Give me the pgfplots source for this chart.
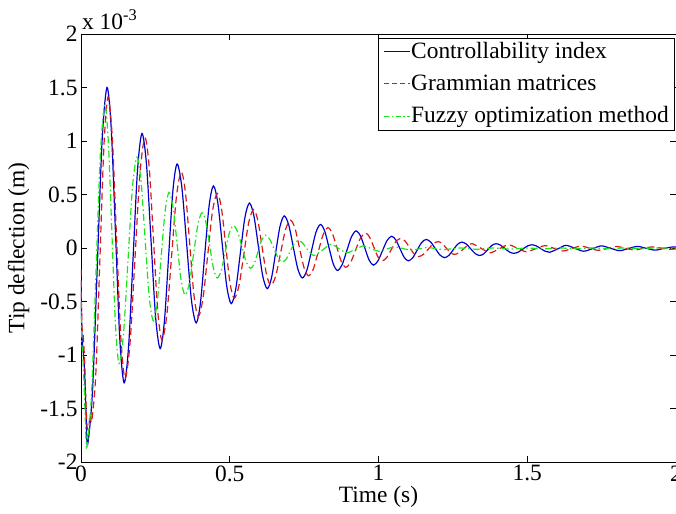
\documentclass[border=0pt]{standalone}
\usepackage{fontspec}
\setmainfont{Liberation Serif}
\usepackage{pgfplots}
\pgfplotsset{compat=1.18}
\definecolor{cblue}{rgb}{0,0,0.8}
\definecolor{cred}{rgb}{0.85,0.1,0.1}
\definecolor{cgreen}{rgb}{0.1,0.9,0.1}

\begin{document}
\begin{tikzpicture}
\begin{axis}[
  scale only axis, width=595bp, height=428bp,
  xmin=0, xmax=2, ymin=-2, ymax=2,
  xtick={0,0.5,1,1.5,2}, ytick={-2,-1.5,-1,-0.5,0,0.5,1,1.5,2},
  tick align=inside, major tick length=6bp,
  axis line style={line width=0.6pt}, every tick/.style={black,line width=0.6pt},
  font=\fontsize{23.5}{27}\selectfont,
  tick label style={font=\fontsize{23.5}{27}\selectfont},
  /pgf/number format/assume math mode=true,
  xlabel={Time (s)}, ylabel={Tip deflection (m)},
  xlabel style={at={(axis description cs:0.5,-0.082)}, anchor=center},
  ylabel style={at={(axis description cs:-0.105,0.5)}, anchor=center},
]
% Controllability index
\addplot[color=cblue, line width=1.2pt, smooth, tension=0.5] coordinates {
(0,-0.3)(0.003,-0.8)(0.007,-0.95)(0.012,-1.15)(0.017,-1.55)(0.022,-1.84)
(0.0384,-1.35)(0.0548,-0.17)(0.0711,1.01)(0.0875,1.50)
(0.1019,1.10)(0.1163,0.12)(0.1306,-0.86)(0.145,-1.26)
(0.16,-0.919)(0.175,-0.095)(0.19,0.729)(0.205,1.07)
(0.2203,0.776)(0.2355,0.065)(0.2508,-0.646)(0.266,-0.94)
(0.2803,-0.687)(0.2945,-0.078)(0.3088,0.532)(0.323,0.785)
(0.339,0.567)(0.355,0.043)(0.371,-0.482)(0.387,-0.70)
(0.4015,-0.512)(0.416,-0.06)(0.4305,0.392)(0.445,0.58)
(0.46,0.419)(0.475,0.03)(0.49,-0.359)(0.505,-0.52)
(0.5203,-0.382)(0.5355,-0.05)(0.5508,0.282)(0.566,0.42)
(0.581,0.303)(0.596,0.02)(0.611,-0.263)(0.626,-0.38)
(0.6403,-0.28)(0.6545,-0.04)(0.6688,0.20)(0.683,0.30)
(0.6983,0.215)(0.7135,0.01)(0.7288,-0.195)(0.744,-0.28)
(0.7593,-0.207)(0.7745,-0.03)(0.7898,0.147)(0.805,0.22)
(0.8193,0.157)(0.8335,0.005)(0.8478,-0.147)(0.862,-0.21)
(0.8778,-0.156)(0.8935,-0.025)(0.9093,0.106)(0.925,0.16)
(0.9395,0.113)(0.954,0)(0.9685,-0.113)(0.983,-0.16)
(0.9983,-0.12)(1.0135,-0.025)(1.0288,0.07)(1.044,0.11)
(1.058,0.076)(1.072,-0.005)(1.086,-0.086)(1.10,-0.12)
(1.115,-0.091)(1.13,-0.02)(1.145,0.051)(1.16,0.08)
(1.1755,0.055)(1.191,-0.005)(1.2065,-0.065)(1.222,-0.09)
(1.2365,-0.069)(1.251,-0.018)(1.2655,0.034)(1.28,0.055)
(1.295,0.037)(1.31,-0.008)(1.325,-0.052)(1.34,-0.07)
(1.354,-0.054)(1.3675,-0.015)(1.381,0.024)(1.395,0.04)
(1.41,0.027)(1.425,-0.005)(1.44,-0.037)(1.455,-0.05)
(1.47,-0.038)(1.485,-0.01)(1.50,0.018)(1.515,0.03)
(1.53,0.02)(1.545,-0.005)(1.56,-0.03)(1.575,-0.04)
(1.603,-0.008)(1.63,0.025)(1.66,-0.003)(1.69,-0.03)(1.72,-0.005)
(1.75,0.02)(1.78,-0.003)(1.81,-0.025)(1.84,-0.005)(1.87,0.015)
(1.90,-0.003)(1.93,-0.02)(1.96,-0.003)(1.99,0.01)(2.0,0.008)
};
% Grammian matrices
\addplot[color=cred, line width=1.2pt, smooth, tension=0.5, dash pattern=on 7bp off 4bp] coordinates {
(0,-0.2)(0.003,-0.72)(0.007,-0.8)(0.012,-1.05)(0.018,-1.55)(0.024,-1.75)(0.030,-1.56)(0.036,-1.62)
(0.0498,-1.176)(0.0635,-0.105)(0.0773,0.966)(0.091,1.41)
(0.1053,1.025)(0.1195,0.095)(0.1338,-0.835)(0.148,-1.22)
(0.1648,-0.89)(0.1815,-0.095)(0.1983,0.70)(0.215,1.03)
(0.2293,0.753)(0.2435,0.085)(0.2578,-0.583)(0.272,-0.86)
(0.2883,-0.63)(0.3045,-0.075)(0.3208,0.48)(0.337,0.71)
(0.3513,0.512)(0.3655,0.035)(0.3798,-0.442)(0.394,-0.64)
(0.41,-0.472)(0.426,-0.065)(0.442,0.342)(0.458,0.51)
(0.4723,0.366)(0.4865,0.02)(0.5008,-0.326)(0.515,-0.47)
(0.5313,-0.348)(0.5475,-0.055)(0.5638,0.238)(0.58,0.36)
(0.5945,0.256)(0.609,0.005)(0.6235,-0.246)(0.638,-0.35)
(0.6545,-0.261)(0.671,-0.045)(0.6875,0.171)(0.704,0.26)
(0.7193,0.184)(0.7345,0)(0.7498,-0.184)(0.765,-0.26)
(0.7813,-0.194)(0.7975,-0.035)(0.8138,0.124)(0.83,0.19)
(0.845,0.136)(0.86,0.005)(0.875,-0.126)(0.89,-0.18)
(0.9065,-0.133)(0.923,-0.02)(0.9395,0.093)(0.956,0.14)
(0.97,0.102)(0.984,0.01)(0.998,-0.082)(1.012,-0.12)
(1.0275,-0.089)(1.043,-0.015)(1.0585,0.059)(1.074,0.09)
(1.0893,0.065)(1.1045,0.005)(1.1198,-0.055)(1.135,-0.08)
(1.1513,-0.059)(1.1675,-0.01)(1.1838,0.039)(1.2,0.06)
(1.2138,0.042)(1.2275,0)(1.2413,-0.042)(1.255,-0.06)
(1.27,-0.045)(1.285,-0.01)(1.30,0.025)(1.315,0.04)
(1.345,-0.003)(1.375,-0.045)(1.406,-0.007)(1.437,0.03)(1.467,-0.003)
(1.497,-0.035)(1.528,-0.007)(1.56,0.022)(1.59,-0.003)(1.62,-0.028)
(1.65,-0.005)(1.68,0.018)(1.71,-0.002)(1.74,-0.022)(1.77,-0.004)
(1.80,0.014)(1.83,-0.002)(1.86,-0.018)(1.89,-0.004)(1.92,0.01)
(1.95,-0.001)(1.98,-0.012)(2.0,-0.008)
};
% Fuzzy optimization method
\addplot[color=cgreen, line width=1.2pt, smooth, tension=0.5, dash pattern=on 7bp off 3bp on 1.5bp off 3bp] coordinates {
(0,-0.5)(0.003,-0.9)(0.007,-1.05)(0.012,-1.4)(0.016,-1.72)(0.02,-1.86)
(0.035,-1.391)(0.05,-0.26)(0.065,0.871)(0.08,1.34)
(0.092,0.985)(0.104,0.13)(0.116,-0.725)(0.128,-1.08)
(0.143,-0.797)(0.158,-0.115)(0.173,0.567)(0.188,0.85)
(0.2018,0.626)(0.2155,0.085)(0.2293,-0.456)(0.243,-0.68)
(0.2563,-0.504)(0.2695,-0.08)(0.2828,0.344)(0.296,0.52)
(0.3095,0.379)(0.323,0.04)(0.3365,-0.299)(0.35,-0.44)
(0.3643,-0.327)(0.3785,-0.055)(0.3928,0.217)(0.407,0.33)
(0.4198,0.241)(0.4325,0.025)(0.4453,-0.191)(0.458,-0.28)
(0.4715,-0.208)(0.485,-0.035)(0.4985,0.138)(0.512,0.21)
(0.5265,0.151)(0.541,0.01)(0.5555,-0.131)(0.57,-0.19)
(0.5825,-0.145)(0.595,-0.035)(0.6075,0.075)(0.62,0.12)
(0.6343,0.083)(0.6485,-0.005)(0.6628,-0.093)(0.677,-0.13)
(0.6903,-0.101)(0.7035,-0.03)(0.7168,0.041)(0.73,0.07)
(0.7438,0.049)(0.7575,0)(0.7713,-0.049)(0.785,-0.07)
(0.8125,-0.018)(0.84,0.035)(0.8665,-0.005)(0.893,-0.045)
(0.9215,-0.013)(0.95,0.02)(0.975,-0.005)(1.0,-0.03)
(1.027,-0.01)(1.055,0.01)(1.082,-0.005)(1.11,-0.02)
(1.137,-0.008)(1.165,0.005)(1.19,-0.005)(1.22,-0.015)
(1.275,0.0)(1.33,-0.012)(1.385,0.0)(1.44,-0.01)(1.5,0.0)
(1.55,-0.008)(1.61,0.0)(1.66,-0.006)(1.72,0.0)(1.77,-0.005)
(1.83,0.0)(1.88,-0.004)(1.94,0.0)(2.0,-0.003)
};
\end{axis}
% legend box, drawn beside the axis
\begin{scope}[shift={(current axis.north east)}]
  \draw[fill=white, line width=0.6pt] (-298bp,-96bp) rectangle (-2bp,-4bp);
  \draw[draw=cblue, line width=1pt] (-292bp,-18bp) -- (-266bp,-18bp);
  \draw[draw=cred, line width=1pt, dash pattern=on 5bp off 3bp] (-292bp,-50bp) -- (-266bp,-50bp);
  \draw[draw=cgreen, line width=1pt, dash pattern=on 5bp off 2.5bp on 1.5bp off 2.5bp] (-292bp,-82bp) -- (-266bp,-82bp);
  \node[anchor=base west, inner sep=0pt, font=\fontsize{23.5}{27}\selectfont] at (-265bp,-25bp) {Controllability index};
  \node[anchor=base west, inner sep=0pt, font=\fontsize{23.5}{27}\selectfont] at (-265bp,-57bp) {Grammian matrices};
  \node[anchor=base west, inner sep=0pt, font=\fontsize{23.5}{27}\selectfont] at (-265bp,-89bp) {Fuzzy optimization method};
\end{scope}
\node[anchor=south west, inner sep=0pt, font=\fontsize{23.5}{27}\selectfont]
  at ([xshift=1bp,yshift=4bp]current axis.north west) {x 10\textsuperscript{-3}};
\pgfresetboundingbox
\path[use as bounding box] ([xshift=-81bp,yshift=-52bp]current axis.south west)
  rectangle ([yshift=34bp]current axis.north east);
\end{tikzpicture}
\end{document}
